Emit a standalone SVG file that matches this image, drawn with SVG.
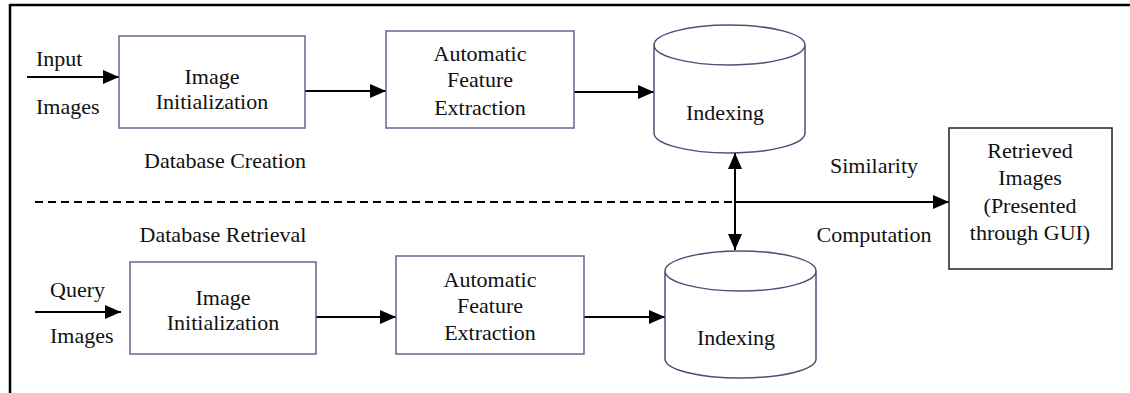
<svg xmlns="http://www.w3.org/2000/svg" width="1130" height="393" viewBox="0 0 1130 393">
<style>
text{font-family:"Liberation Serif","Times New Roman",serif;font-size:22px;fill:#111;}
.c{text-anchor:middle;}
.box{fill:#fff;stroke:#66668c;stroke-width:1.5;}
.rbox{fill:#fff;stroke:#222;stroke-width:1.5;}
.cyl{fill:#fff;stroke:#4f4f78;stroke-width:1.5;}
.ln{stroke:#000;stroke-width:2;fill:none;}
</style>
<defs>
<marker id="ah" markerUnits="userSpaceOnUse" markerWidth="16" markerHeight="14" refX="16" refY="7" orient="auto-start-reverse">
<path d="M0,0 L16,7 L0,14 z" fill="#000"/>
</marker>
</defs>
<g id="frame">
<line x1="10" y1="5" x2="1130" y2="5" stroke="#000" stroke-width="2.5"/>
<line x1="10" y1="4" x2="10" y2="393" stroke="#000" stroke-width="2.5"/>
</g>
<g id="connectors">
<line class="ln" x1="27" y1="77" x2="119" y2="77" marker-end="url(#ah)"/>
<line class="ln" x1="305" y1="91" x2="386" y2="91" marker-end="url(#ah)"/>
<line class="ln" x1="574" y1="92" x2="654" y2="92" marker-end="url(#ah)"/>
<line class="ln" x1="735" y1="153" x2="735" y2="250" marker-start="url(#ah)" marker-end="url(#ah)"/>
<line class="ln" x1="735" y1="202" x2="949" y2="202" marker-end="url(#ah)"/>
<line class="ln" x1="35" y1="202" x2="735" y2="202" stroke-dasharray="8,5" stroke-width="1.5"/>
<line class="ln" x1="35" y1="312" x2="121" y2="312" marker-end="url(#ah)"/>
<line class="ln" x1="316" y1="317" x2="396" y2="317" marker-end="url(#ah)"/>
<line class="ln" x1="584" y1="317" x2="665" y2="317" marker-end="url(#ah)"/>
</g>
<g id="labels">
<text x="36" y="66">Input</text>
<text x="36" y="114">Images</text>
<text class="c" x="225" y="168">Database Creation</text>
<text class="c" x="223" y="242">Database Retrieval</text>
<text x="50" y="297">Query</text>
<text x="50" y="343">Images</text>
<text class="c" x="874" y="173">Similarity</text>
<text class="c" x="874" y="242">Computation</text>
</g>
<g id="init1">
<rect class="box" x="119" y="36" width="186" height="92"/>
<text class="c" x="212" y="84">Image</text>
<text class="c" x="212" y="109">Initialization</text>
</g>
<g id="extract1">
<rect class="box" x="386" y="31" width="188" height="97"/>
<text class="c" x="480" y="61">Automatic</text>
<text class="c" x="480" y="87">Feature</text>
<text class="c" x="480" y="115">Extraction</text>
</g>
<g id="index1">
<path class="cyl" d="M654,45 L654,133 A75.5,20 0 0 0 805,133 L805,45 A75.5,20 0 0 0 654,45 A75.5,20 0 0 0 805,45"/>
<text class="c" x="725" y="120">Indexing</text>
</g>
<g id="retrieved">
<rect class="rbox" x="949" y="128" width="163" height="141"/>
<text class="c" x="1030" y="158">Retrieved</text>
<text class="c" x="1030" y="185">Images</text>
<text class="c" x="1030" y="213">(Presented</text>
<text class="c" x="1030" y="240">through GUI)</text>
</g>
<g id="init2">
<rect class="box" x="130" y="262" width="186" height="92"/>
<text class="c" x="223" y="305">Image</text>
<text class="c" x="223" y="330">Initialization</text>
</g>
<g id="extract2">
<rect class="box" x="396" y="256" width="188" height="98"/>
<text class="c" x="490" y="287">Automatic</text>
<text class="c" x="490" y="313">Feature</text>
<text class="c" x="490" y="340">Extraction</text>
</g>
<g id="index2">
<path class="cyl" d="M665,271 L665,359 A75.5,19 0 0 0 816,359 L816,271 A75.5,20 0 0 0 665,271 A75.5,20 0 0 0 816,271"/>
<text class="c" x="736" y="345">Indexing</text>
</g>
</svg>
